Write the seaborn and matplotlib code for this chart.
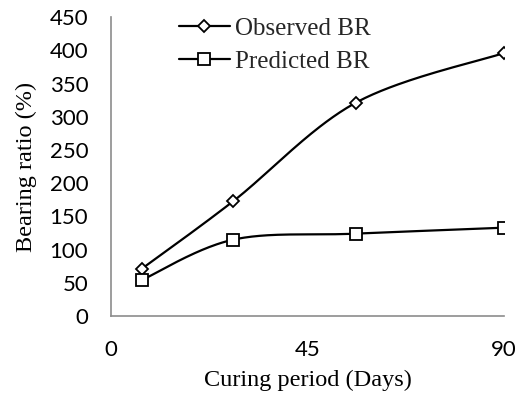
import numpy as np
import pandas as pd
import matplotlib
matplotlib.use("Agg")
import matplotlib.pyplot as plt
from matplotlib.lines import Line2D
import seaborn as sns

# Curing period (days) and bearing ratio (%)
days = [7, 28, 56, 90]
observed_br = [71, 173, 321, 396]
predicted_br = [54, 115, 124, 133]
x_ticks = [0, 45, 90]
y_ticks = [0, 50, 100, 150, 200, 250, 300, 350, 400, 450]

sns.set_theme(style="white")
plt.rcParams["font.family"] = ["Lato", "DejaVu Sans"]

fig = plt.figure(figsize=(5.24, 3.98), dpi=100)
ax = fig.add_axes([0.212, 0.206, 0.750, 0.751])
ax.set_xlim(0, 90)
ax.set_ylim(0, 450)

# screen-space scale used for the smoothed (Catmull-Rom) connecting curves
SX, SY = 393.0 / 90.0, 299.0 / 450.0


def smooth(xs, ys, n=60):
    p = np.column_stack([np.asarray(xs, float) * SX, np.asarray(ys, float) * SY])
    p = np.vstack([p[0], p, p[-1]])
    out = []
    for i in range(1, len(p) - 2):
        p0, p1, p2, p3 = p[i - 1], p[i], p[i + 1], p[i + 2]
        c1 = p1 + (p2 - p0) / 6.0
        c2 = p2 - (p3 - p1) / 6.0
        t = np.linspace(0, 1, n)[:, None]
        seg = ((1 - t) ** 3) * p1 + 3 * ((1 - t) ** 2) * t * c1 + 3 * (1 - t) * t ** 2 * c2 + t ** 3 * p2
        out.append(seg if i == 1 else seg[1:])
    out = np.vstack(out)
    return out[:, 0] / SX, out[:, 1] / SY


series = [("Observed BR", observed_br, "D", 6.3), ("Predicted BR", predicted_br, "s", 9.2)]
handles = []
for name, vals, mk, ms in series:
    cx, cy = smooth(days, vals)
    curve = pd.DataFrame({"x": cx, "y": cy})
    sns.lineplot(data=curve, x="x", y="y", ax=ax, color="black", linewidth=1.6,
                 sort=False, estimator=None, zorder=2)
    pts = pd.DataFrame({"x": days, "y": vals})
    ax.plot(pts["x"], pts["y"], linestyle="none", marker=mk, markersize=ms,
            markerfacecolor="white", markeredgecolor="black", markeredgewidth=1.3, zorder=3)
    handles.append(Line2D([], [], color="black", linewidth=1.6, marker=mk, markersize=ms,
                          markerfacecolor="white", markeredgecolor="black",
                          markeredgewidth=1.3, label=name))

ax.set_xticks(x_ticks)
ax.set_yticks(y_ticks)
ax.tick_params(axis="both", direction="in", length=7, width=1, color="#8c8c8c",
               labelsize=16, labelcolor="black")
ax.tick_params(axis="x", pad=17.5)
ax.tick_params(axis="y", pad=16.5)

for side in ["top", "right"]:
    ax.spines[side].set_visible(False)
for side in ["left", "bottom"]:
    ax.spines[side].set_color("#8c8c8c")
    ax.spines[side].set_linewidth(1.2)

serif = ["Liberation Serif", "DejaVu Serif"]
ax.set_xlabel("Curing period (Days)", fontsize=17.5, family=serif, color="black", labelpad=7)
ax.set_ylabel("Bearing ratio (%)", fontsize=17.5, family=serif, color="black", labelpad=9)

leg = ax.legend(handles=handles, loc="upper left", bbox_to_anchor=(0.14, 1.04),
                frameon=False, prop={"family": serif, "size": 18},
                handlelength=2.05, handletextpad=0.22, labelspacing=0.4, borderpad=0)

fig.savefig("out.png", dpi=100, facecolor="white")
